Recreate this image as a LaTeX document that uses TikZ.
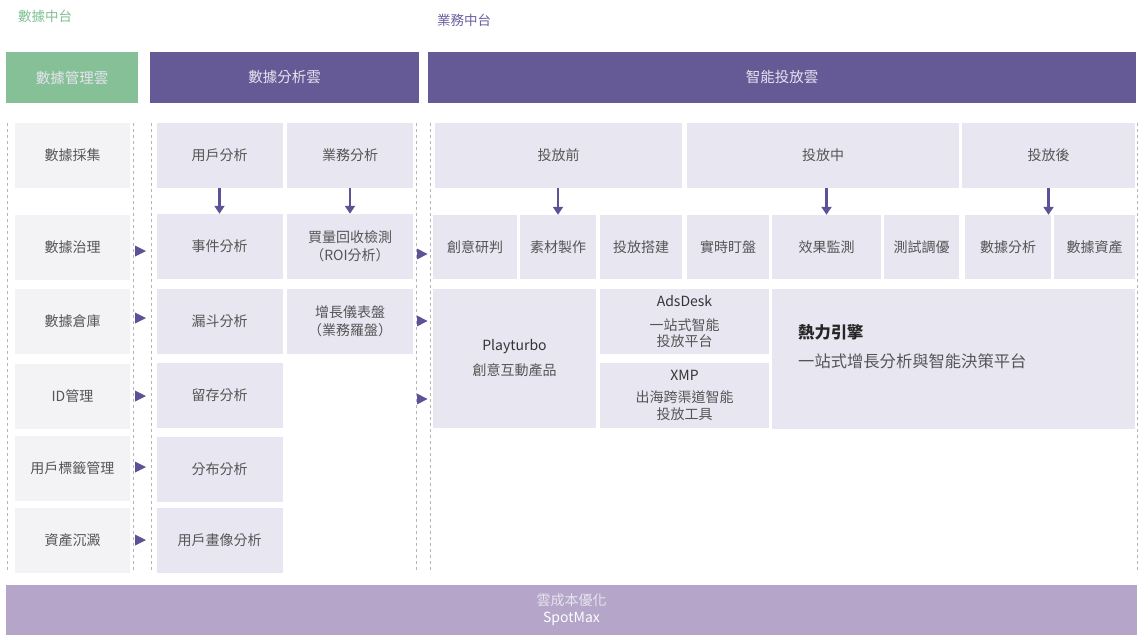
\documentclass[tikz,border=0pt]{standalone}
\usepackage{fontspec}
\setmainfont{Noto Sans CJK TC}
\usepackage{xcolor}
\usetikzlibrary{arrows.meta}

\definecolor{greenc}{HTML}{85C096}
\definecolor{purplec}{HTML}{655A96}
\definecolor{leftc}{HTML}{F3F3F5}
\definecolor{boxc}{HTML}{E8E6F1}
\definecolor{bandc}{HTML}{B4A5C9}
\definecolor{arrowc}{HTML}{5E5196}
\definecolor{sepc}{HTML}{B5B5B5}
\definecolor{txt}{HTML}{555555}
\definecolor{headtxt}{HTML}{E6E4EF}
\definecolor{titlegreen}{HTML}{7FBF95}
\definecolor{titlepurple}{HTML}{6B5FA0}

\tikzset{
  cloud/.style={inner sep=0, minimum height=51pt, text=headtxt, font=\fontsize{14.5}{17}\selectfont},
  leftbox/.style={fill=leftc, inner sep=0, minimum width=115pt, minimum height=65pt, text=txt, align=center, font=\fontsize{14}{18}\selectfont},
  box/.style={fill=boxc, inner sep=0, minimum height=65pt, text=txt, align=center, font=\fontsize{14}{18}\selectfont},
  down/.style={draw=arrowc, line width=2.5pt, -{Triangle[width=10pt,length=8pt]}},
  sep/.style={draw=sepc, line width=0.8pt, dash pattern=on 3pt off 3pt},
  dark/.style={text=black!80}
}

\begin{document}
\begin{tikzpicture}[x=1pt, y=-1pt]
  \useasboundingbox (0,0) rectangle (1138,635);

  % titles
  \node[text=titlegreen, font=\fontsize{13.5}{15}\selectfont] (datatitle) at (45,16) {數據中台};
  \node[text=titlepurple, font=\fontsize{13.5}{15}\selectfont] (biztitle) at (464,20) {業務中台};

  % cloud headers
  \node[cloud, fill=greenc, minimum width=132pt] (mgmt) at (72,77.5) {數據管理雲};
  \node[cloud, fill=purplec, minimum width=269pt] (anal) at (284.5,77.5) {數據分析雲};
  \node[cloud, fill=purplec, minimum width=708pt] (ads) at (782,77.5) {智能投放雲};

  % dashed separators
  \foreach \x in {7,133,151,416,430,1137}
    \draw[sep] (\x,123) -- (\x,573);

  % data management column
  \node[leftbox] (collect) at (72.5,155.5) {數據採集};
  \node[leftbox] (govern) at (72.5,247) {數據治理};
  \node[leftbox] (store) at (72.5,321) {數據倉庫};
  \node[leftbox] (idmgmt) at (72.5,396) {ID管理};
  \node[leftbox] (tags) at (72.5,468.5) {用戶標籤管理};
  \node[leftbox] (assets) at (72.5,540.5) {資產沉澱};

  % data analysis column
  \node[box, minimum width=126pt] (user) at (219.5,155.5) {用戶分析};
  \node[box, minimum width=126pt] (event) at (219.5,246.5) {事件分析};
  \node[box, minimum width=126pt] (funnel) at (219.5,321) {漏斗分析};
  \node[box, minimum width=126pt] (retain) at (219.5,395.5) {留存分析};
  \node[box, minimum width=126pt] (distrib) at (219.5,469.5) {分布分析};
  \node[box, minimum width=126pt] (portrait) at (219.5,540.5) {用戶畫像分析};
  \node[box, minimum width=126pt] (biz) at (350,155.5) {業務分析};
  \node[box, minimum width=126pt] (roi) at (350,246.5) {買量回收檢測\\（ROI分析）};
  \node[box, minimum width=126pt] (growth) at (350,321) {增長儀表盤\\（業務羅盤）};

  \draw[down] (user.south) -- (user.south |- event.north);
  \draw[down] (biz.south) -- (biz.south |- roi.north);

  % ad delivery stages
  \node[box, minimum width=247pt] (pre) at (558.5,155.5) {投放前};
  \node[box, minimum width=272pt] (during) at (823,155.5) {投放中};
  \node[box, minimum width=173pt] (post) at (1048.5,155.5) {投放後};

  \node[box, minimum width=84pt, minimum height=64pt] (judge) at (475,247) {創意研判};
  \node[box, minimum width=76pt, minimum height=64pt] (material) at (558,247) {素材製作};
  \node[box, minimum width=82pt, minimum height=64pt] (setup) at (641,247) {投放搭建};
  \node[box, minimum width=82pt, minimum height=64pt] (watch) at (728,247) {實時盯盤};
  \node[box, minimum width=109pt, minimum height=64pt] (monitor) at (826.5,247) {效果監測};
  \node[box, minimum width=75pt, minimum height=64pt] (tune) at (921.5,247) {測試調優};
  \node[box, minimum width=86pt, minimum height=64pt] (dataan) at (1008,247) {數據分析};
  \node[box, minimum width=81pt, minimum height=64pt] (dataas) at (1094.5,247) {數據資產};

  \coordinate (postend) at (post.south |- dataan.north);
  \draw[down] (material.north |- pre.south) -- (material.north);
  \draw[down] (monitor.north |- during.south) -- (monitor.north);
  \draw[down] (post.south) -- (postend);

  % products
  \node[box, minimum width=163pt, minimum height=139pt] (playturbo) at (514.5,358.5)
    {{\color{black!80}Playturbo}\\[7pt]創意互動產品};
  \node[box, minimum width=169pt] (adsdesk) at (684.5,321.5)
    {{\color{black!80}AdsDesk}\\[6pt]一站式智能\\[-1.5pt]投放平台};
  \node[box, minimum width=169pt] (xmp) at (684.5,395.5)
    {{\color{black!80}XMP}\\[4pt]出海跨渠道智能\\[-1.5pt]投放工具};
  \node[box, minimum width=363pt, minimum height=140pt] (engine) at (953.5,359) {};
  \node[anchor=north west, inner sep=0, align=left, text=txt, font=\fontsize{16.3}{29}\selectfont]
    (enginetxt) at (798,324) {{\bfseries\color{black!85}熱力引擎}\\一站式增長分析與智能決策平台};

  % flow markers
  \foreach \y in {251,318,396,467,540}
    \fill[arrowc] (135,\y-5.5) -- ++(11,5.5) -- ++(-11,5.5) -- cycle;
  \foreach \y in {254,321,399}
    \fill[arrowc] (417,\y-5.5) -- ++(10.5,5.5) -- ++(-10.5,5.5) -- cycle;

  % cost band
  \node[fill=bandc, inner sep=0, minimum width=1131pt, minimum height=50pt, align=center,
    text=white, font=\fontsize{14}{17}\selectfont] (spotmax) at (571.5,610)
    {{\color{headtxt}雲成本優化}\\SpotMax};
\end{tikzpicture}
\end{document}
